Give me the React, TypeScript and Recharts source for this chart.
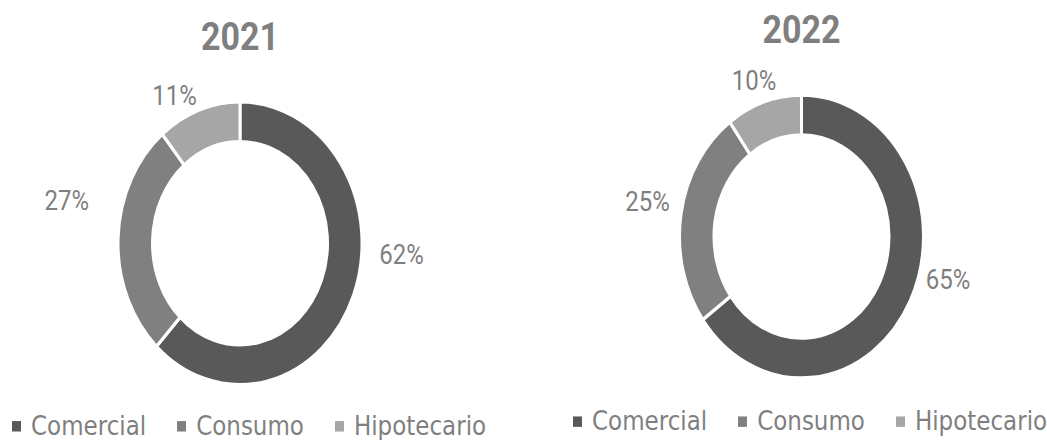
import { PieChart, Pie, Legend } from "recharts";

const categories = ["Comercial", "Consumo", "Hipotecario"];
const years = ["2021", "2022"];
const values2021 = [62, 27, 11];
const values2022 = [65, 25, 10];
const colors = ["#595959", "#808080", "#a6a6a6"];

const W = 1047;
const H = 440;
// the source image is stretched vertically, so the whole drawing is too
const STRETCH = 1.16;
const INNER_H = H / STRETCH;
const TEXT = "#7f7f7f";
const RADIAN = Math.PI / 180;

// label placement: [angle shift from slice middle (deg), distance from centre]
const panels = [
  {
    year: years[0],
    values: values2021,
    cx: 240,
    cy: 209.7,
    titleTop: 13.7,
    legendLeft: 12,
    legendTop: 355.8,
    labelPos: [
      [18.3, 161.8],
      [-10.2, 177],
      [7.3, 143.6],
    ],
  },
  {
    year: years[1],
    values: values2022,
    cx: 801.5,
    cy: 203.9,
    titleTop: 7.6,
    legendLeft: 573,
    legendTop: 352.4,
    labelPos: [
      [12.8, 151.1],
      [-2.2, 157],
      [1.4, 142.6],
    ],
  },
];

const makeLabel = (pos: number[][]) => (props: any) => {
  const { cx, cy, midAngle, index, value } = props;
  const [shift, r] = pos[index];
  const a = (midAngle + shift) * RADIAN;
  return (
    <text
      x={cx + r * Math.cos(a)}
      y={cy - r * Math.sin(a)}
      fill={TEXT}
      textAnchor="middle"
      dominantBaseline="central"
      style={{ fontFamily: "Roboto", fontSize: 24 }}
    >
      {value}%
    </text>
  );
};

const renderLegend = (props: any) => (
  <div
    style={{
      display: "flex",
      alignItems: "center",
      fontFamily: "DejaVu Sans",
      fontSize: 23,
      lineHeight: "23px",
      color: TEXT,
      whiteSpace: "nowrap",
    }}
  >
    {(props.payload || []).map((p: any, i: number) => (
      <div key={p.value} style={{ display: "flex", alignItems: "center", marginRight: 31 }}>
        <span
          style={{
            display: "inline-block",
            width: 9,
            height: 9,
            background: p.color || colors[i],
            marginRight: 10,
          }}
        />
        <span>{p.value}</span>
      </div>
    ))}
  </div>
);

function Donut({ panel }: { panel: (typeof panels)[number] }) {
  const data = categories.map((name, i) => ({
    name,
    value: panel.values[i],
    fill: colors[i],
  }));
  return (
    <div style={{ position: "absolute", left: 0, top: 0 }}>
      <PieChart width={W} height={INNER_H} margin={{ top: 0, right: 0, bottom: 0, left: 0 }}>
        <Pie
          data={data}
          dataKey="value"
          nameKey="name"
          cx={panel.cx}
          cy={panel.cy}
          innerRadius={87.5}
          outerRadius={122}
          startAngle={90}
          endAngle={-270}
          stroke="#ffffff"
          strokeWidth={3}
          label={makeLabel(panel.labelPos)}
          labelLine={false}
          isAnimationActive={false}
        />
        <Legend
          content={renderLegend}
          wrapperStyle={{ left: panel.legendLeft, top: panel.legendTop, width: 480, height: 23 }}
        />
      </PieChart>
      <div
        style={{
          position: "absolute",
          left: panel.cx - 100,
          top: panel.titleTop,
          width: 200,
          textAlign: "center",
          fontFamily: "Roboto",
          fontWeight: 700,
          fontSize: 34,
          lineHeight: "34px",
          color: TEXT,
        }}
      >
        {panel.year}
      </div>
    </div>
  );
}

export default function App() {
  return (
    <div
      style={{
        position: "absolute",
        left: 0,
        top: 0,
        width: W,
        height: H,
        background: "#ffffff",
        overflow: "hidden",
      }}
    >
      <div
        style={{
          position: "absolute",
          left: 0,
          top: 0,
          width: W,
          height: INNER_H,
          transform: `scaleY(${STRETCH})`,
          transformOrigin: "0 0",
        }}
      >
        {panels.map((p) => (
          <Donut key={p.year} panel={p} />
        ))}
      </div>
    </div>
  );
}
